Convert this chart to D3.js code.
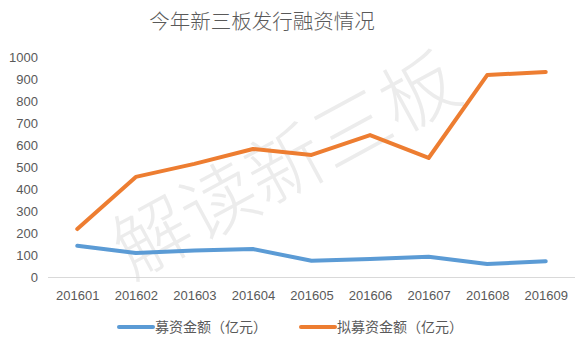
<!DOCTYPE html>
<html>
<head>
<meta charset="utf-8">
<script src="https://cdn.jsdelivr.net/npm/d3@7"></script>
<style>
  body { margin: 0; background: #fff; }
  text { font-family: "Noto Sans CJK SC", "Microsoft YaHei", sans-serif; }
</style>
</head>
<body>
<svg id="chart"></svg>
<script>
let months = ["201601", "201602", "201603", "201604", "201605", "201606", "201607", "201608", "201609"]
let raised = [142, 109, 120, 127, 74, 82, 92, 59, 72]
let planned = [218, 455, 514, 582, 555, 645, 541, 918, 932]
let yTicks = [0, 100, 200, 300, 400, 500, 600, 700, 800, 900, 1000]
let seriesNames = ["募资金额（亿元）", "拟募资金额（亿元）"]
let colors = ["#5B9BD5", "#ED7D31"]

let width = 588
let height = 348
let plotLeft = 48
let plotRight = 575
let plotTop = 57
let plotBottom = 277

let svg = d3.select("#chart").attr("width", width).attr("height", height)

svg.append("rect").attr("width", width).attr("height", height).attr("fill", "#fff")

// watermark
svg.append("text")
    .text("解读新三板")
    .attr("transform", "translate(283,160) rotate(-28.5)")
    .attr("text-anchor", "middle")
    .attr("dominant-baseline", "central")
    .style("font-size", "76px")
    .style("font-weight", "300")
    .style("fill", "#ececec")

svg.append("text")
    .text("今年新三板发行融资情况")
    .attr("x", 262)
    .attr("y", 29)
    .attr("text-anchor", "middle")
    .style("font-size", "20.5px")
    .style("font-weight", "300")
    .style("fill", "#595959")

let xScale = d3.scalePoint().domain(months).range([plotLeft, plotRight]).padding(0.5)
let yScale = d3.scaleLinear().domain([0, 1000]).range([plotBottom, plotTop])

let yAxis = d3.axisLeft(yScale).tickValues(yTicks).tickFormat(d3.format("d")).tickSize(0).tickPadding(8)
let gy = svg.append("g").attr("transform", "translate(" + (plotLeft - 2) + ",0)").call(yAxis)
gy.select(".domain").remove()
gy.selectAll("text").style("font-size", "13px").style("fill", "#595959")
    .style("font-family", "'Liberation Sans', Arial, sans-serif")

let xAxis = d3.axisBottom(xScale).tickSize(0).tickPadding(14)
let gx = svg.append("g").attr("transform", "translate(0," + plotBottom + ")").call(xAxis)
gx.select(".domain").attr("stroke", "#d9d9d9").attr("d", "M" + plotLeft + ",0.5H" + plotRight)
gx.selectAll("text").style("font-size", "13px").style("fill", "#595959")
    .style("font-family", "'Liberation Sans', Arial, sans-serif")

let line = d3.line().x((d, i) => xScale(months[i])).y(d => yScale(d))

;[raised, planned].forEach((s, i) => {
    svg.append("path")
        .datum(s)
        .attr("d", line)
        .attr("fill", "none")
        .attr("stroke", colors[i])
        .attr("stroke-width", 4)
        .attr("stroke-linecap", "round")
        .attr("stroke-linejoin", "round")
})

let legendX = [119, 301]
seriesNames.forEach((n, i) => {
    svg.append("line")
        .attr("x1", legendX[i]).attr("x2", legendX[i] + 34)
        .attr("y1", 327).attr("y2", 327)
        .attr("stroke", colors[i]).attr("stroke-width", 4).attr("stroke-linecap", "round")
    svg.append("text")
        .text(n)
        .attr("x", legendX[i] + 36)
        .attr("y", 332)
        .style("font-size", "14px")
        .style("fill", "#595959")
})
</script>
</body>
</html>
